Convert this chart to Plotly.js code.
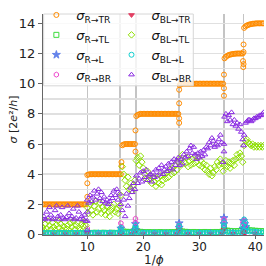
<!DOCTYPE html>
<html><head><meta charset="utf-8">
<script src="https://cdn.plot.ly/plotly-3.0.1.min.js"></script>
<style>html,body{margin:0;padding:0;background:#fff;}#c{width:266px;height:266px;}</style>
</head><body><div id="c"></div>
<script>
// dense x grid (1/phi)
const xGrid = [
2,2.25,2.5,2.75,3,3.25,3.5,3.75,4,4.25,4.5,4.75,5,5.25,5.5,5.75,6,6.25,6.5,6.75,7,7.25,7.5,7.75,8,8.25,8.5,8.75,9,9.25,9.5,9.75,
10,10.25,10.5,10.75,11,11.25,11.5,11.75,12,12.25,12.5,12.75,13,13.25,13.5,13.75,14,14.25,14.5,14.75,15,15.25,15.5,15.75,
16,16.25,16.5,16.75,17,17.25,17.5,17.75,18,18.25,18.5,18.75,19,19.25,19.5,19.75,
20,20.25,20.5,20.75,21,21.25,21.5,21.75,22,22.25,22.5,22.75,23,23.25,23.5,23.75,24,24.25,24.5,24.75,25,25.25,25.5,25.75,
26,26.25,26.5,26.75,27,27.25,27.5,27.75,28,28.25,28.5,28.75,29,29.25,29.5,29.75,
30,30.25,30.5,30.75,31,31.25,31.5,31.75,32,32.25,32.5,32.75,33,33.25,33.5,33.75,
34,34.25,34.5,34.75,35,35.25,35.5,35.75,36,36.25,36.5,36.75,37,37.25,37.5,37.75,
38,38.25,38.5,38.75,39,39.25,39.5,39.75,40,40.25,40.5,40.75,41,41.25,41.5];
// coarse grid for the near-zero channels
const xCoarse = [2,2.5,3,3.5,4,4.5,5,5.5,6,6.5,7,7.5,8,8.5,9,9.5,10,10.5,11,11.5,12,12.5,13,13.5,14,14.5,15,15.5,
16,16.5,17,17.5,18,18.5,19,19.5,20,20.5,21,21.5,22,22.5,23,23.5,24,24.5,25,25.5,26,26.5,27,27.5,28,28.5,29,29.5,
30,30.5,31,31.5,32,32.5,33,33.5,34,34.5,35,35.5,36,36.5,37,37.5,38,38.5,39,39.5,40,40.5,41,41.5];
const xSparse = [2,4,6,8,10,12,14,16,18,20,22,24,26,28,30,32,34,36,38,40];

// sigma R->TR
const rTR = [
2,2,2,2,2,2,2,2,2,2,2,2,2,2,2,2,2,2,2,2,2,2,2,2,2,2,2,2,2,2,2,2,
3.95,3.98,4,4,4,4,4,4,4,4,4,4,4,4,4,4,4,4,4,4,4,4,4,4,4,
5.92,5.97,6,6,6,6,6,6,6,6,
7.85,7.93,7.97,8,8,8,8,8,8,8,8,8,8,8,8,8,8,8,8,8,8,8,8,8,8,8,8,8,8,8,8,
9.9,9.96,10,10,10,10,10,10,10,10,10,10,10,10,10,10,10,10,10,10,10,10,10,10,10,10,10,10,10,10,10,10,
11.68,11.78,11.85,11.9,11.93,11.95,11.97,11.98,11.99,12,12,12,12,12,
13.7,13.8,13.86,13.9,13.93,13.95,13.97,13.98,13.99,14,14,14,14,14,14];
const rTRxExtra = [10,10,16.1,16.1,18.6,18.6,26.4,26.4,26.4,26.4,34.4,34.4,34.4,37.9,37.9,37.8,37.9,37.85];
const rTRyExtra = [2.5,3.4,4.8,4.55,5.5,6.9,9.6,8.7,7.7,7.4,10.6,9.7,9.2,12.6,12.1,11.5,11.3,11.1];

// sigma BL->BR
const blBR = [
1.05,1.2,1.0,1.5,1.1,1.8,1.3,1.0,1.05,1.6,1.9,1.2,1.0,1.3,1.8,1.1,1.0,1.15,1.9,1.4,1.05,1.2,1.7,1.0,1.1,1.9,1.5,1.0,1.2,1.0,1.3,0.9,
2.3,2.1,2.6,2.2,2.5,2.9,2.3,2.7,3.0,2.4,2.8,2.2,2.5,2.1,2.3,2.0,2.2,2.6,2.4,2.9,2.6,3.0,2.3,2.7,
2.0,1.6,2.3,1.2,2.7,1.9,2.4,3.1,2.8,3.4,3.0,
3.9,3.4,3.7,4.1,3.5,
4.2,3.8,4.3,3.6,3.9,4.0,3.5,4.1,3.8,4.3,3.9,4.4,4.1,4.6,4.0,4.3,4.5,4.2,4.7,4.4,4.8,4.3,5.0,4.6,
4.9,5.1,4.6,5.0,4.7,5.3,5.1,5.5,5.2,5.7,5.9,5.4,5.8,5.3,5.0,5.4,
5.1,5.5,5.2,5.6,5.3,5.8,5.7,6.1,5.9,6.4,6.2,5.8,6.0,5.9,6.3,6.6,
6.1,4.8,7.8,8.0,7.5,7.9,7.6,8.1,7.3,7.6,7.2,7.4,7.0,7.3,6.8,6.3,
6.6,7.4,7.5,7.6,7.6,7.5,7.6,7.7,7.7,7.8,7.8,7.9,7.9,8.0,8.1];
const blBRxExtra = [10,10,10,34.4,34.4,37.9];
const blBRyExtra = [0.3,0.9,1.5,5.5,6.0,5.9];

// sigma BL->TL
const blTL = [
0.5,0.3,0.7,0.4,0.9,0.6,0.35,0.8,0.5,0.3,0.65,0.9,0.45,0.7,0.3,0.55,0.85,0.4,0.6,0.3,0.75,0.5,0.9,0.35,0.6,0.8,0.45,0.3,0.7,0.55,0.85,0.6,
1.8,1.4,2.0,1.6,1.3,1.9,2.2,1.5,1.7,2.1,1.4,1.8,1.6,1.3,1.9,1.5,1.2,1.6,1.8,2.0,1.5,1.7,1.4,1.9,
2.6,4.5,4.0,3.6,3.2,3.8,3.0,3.4,2.9,3.3,3.6,
4.9,5.1,4.6,5.2,4.8,
4.4,4.0,3.7,4.2,3.6,3.9,3.4,3.8,3.5,3.2,3.7,3.4,3.9,3.3,3.6,4.0,3.7,4.1,3.8,4.3,4.0,4.4,4.1,4.6,
4.3,4.8,5.0,4.6,5.3,4.8,4.7,5.1,4.5,4.9,4.6,5.0,4.7,5.2,4.8,5.1,
4.6,4.9,4.5,4.7,4.3,4.6,4.2,4.0,4.4,3.9,4.1,4.5,4.3,4.8,4.6,5.0,
4.7,4.2,4.6,4.9,4.5,4.8,4.4,4.7,4.9,4.6,5.0,5.3,5.1,5.4,5.2,4.8,
5.9,6.2,6.3,6.1,6.0,5.9,6.0,5.8,5.9,5.8,5.9,5.8,5.9,5.8,5.9];

// sigma BL->L (baseline on coarse grid + spikes)
const blL = [
0.1,0.11,0.1,0.12,0.1,0.11,0.1,0.12,0.1,0.11,0.1,0.12,0.1,0.11,0.1,0.12,
0.12,0.1,0.11,0.1,0.12,0.1,0.11,0.1,0.12,0.1,0.11,0.12,
0.22,0.14,0.12,0.13,0.15,0.2,
0.14,0.12,0.11,0.12,0.1,0.11,0.12,0.1,0.11,0.12,0.1,0.11,0.12,0.1,0.13,
0.2,0.14,0.12,0.11,0.12,0.1,0.11,0.12,0.1,0.11,0.12,0.1,0.11,0.12,0.1,0.13,
0.22,0.16,0.14,0.13,0.12,0.13,0.15,
0.25,0.22,0.2,0.2,0.18,0.16,0.15,0.14];
const blLxExtra = [16.0,16.0,18.6,18.6,26.4,26.4,34.4,34.4,37.8,38.0,38.2,38.4];
const blLyExtra = [0.3,0.45,0.4,0.6,0.5,0.6,0.6,0.8,0.6,1.0,0.8,0.5];

// sigma R->TL
const rTL = [
0.08,0.1,0.09,0.08,0.1,0.09,0.08,0.1,0.09,0.08,0.1,0.09,0.08,0.1,0.09,0.08,
0.12,0.1,0.11,0.12,0.1,0.11,0.12,0.1,0.11,0.12,0.1,0.11,
0.3,0.2,0.18,0.17,0.18,0.3,
0.2,0.18,0.16,0.15,0.16,0.15,0.14,0.15,0.16,0.15,0.14,0.15,0.16,0.15,0.17,
0.25,0.2,0.18,0.17,0.16,0.17,0.16,0.15,0.16,0.17,0.16,0.15,0.16,0.17,0.16,0.18,
0.3,0.26,0.24,0.22,0.22,0.23,0.25,
0.32,0.3,0.28,0.27,0.25,0.24,0.23,0.22];
const rTLxExtra = [16.0,18.6,26.4,34.4,38.0];
const rTLyExtra = [0.3,0.4,0.3,0.5,0.4];

// sigma R->L, R->BR, BL->TR (sparse baselines + spikes)
const rLbase = [0.03,0.03,0.03,0.03,0.04,0.03,0.03,0.05,0.05,0.04,0.04,0.04,0.04,0.05,0.05,0.05,0.06,0.06,0.08,0.07];
const rLxExtra = [16.0,18.6,18.6,26.4,26.4,34.4,34.4,37.9,38.1,38.3,37.8];
const rLyExtra = [0.4,0.7,0.3,0.75,0.45,1.1,0.7,0.9,0.7,0.5,0.4];
const rBRbase = [0.02,0.02,0.02,0.02,0.03,0.02,0.02,0.04,0.04,0.03,0.03,0.03,0.03,0.04,0.04,0.04,0.05,0.05,0.07,0.06];
const rBRxExtra = [10.0,16.0,16.1,18.6,18.6,26.4,26.4,34.4,34.4,37.8,38.0,38.2];
const rBRyExtra = [0.4,0.75,0.5,1.05,0.8,0.65,0.5,1.0,0.8,0.8,0.95,0.6];
const blTRbase = [0.01,0.01,0.01,0.01,0.02,0.01,0.01,0.02,0.02,0.02,0.02,0.02,0.02,0.02,0.02,0.02,0.03,0.03,0.05,0.04];
const blTRxExtra = [10,16.0,18.6,26.4,34.4,37.9,38.1];
const blTRyExtra = [0.1,0.15,0.25,0.3,0.3,0.15,0.2];

const xTickVals = [10,20,30,40];
const yTickVals = [0,2,4,6,8,10,12,14];
const yMinorVals = [1,3,5,7,9,11,13];
const xGridVals = [10.02,15.85,18.7,26.4,34.45,37.87];

function mk(name, xs, ys, symbol, color, leg, filled, size){
  return {type:'scatter', mode:'markers', name:name, x:xs, y:ys, legend:leg,
    marker:{symbol:symbol, size:size||5, color: color, opacity: filled?0.85:1,
      line:{color:color, width:1}}, hoverinfo:'skip', cliponaxis:true};
}
const cat = (a,b)=>a.concat(b);
const lab = s => '<i>σ</i><sub>'+s+'</sub>';

const data = [
  mk(lab('R→TR'), cat(xGrid,rTRxExtra), cat(rTR,rTRyExtra), 'circle-open', '#ff8c00', 'legend', false, 5),
  mk(lab('R→TL'), cat(xCoarse,rTLxExtra), cat(rTL,rTLyExtra), 'square-open', '#3ddc3d', 'legend', false, 5),
  mk(lab('R→L'), cat(xSparse,rLxExtra), cat(rLbase,rLyExtra), 'star', '#4a6ee8', 'legend', true, 6),
  mk(lab('R→BR'), cat(xSparse,rBRxExtra), cat(rBRbase,rBRyExtra), 'hexagon-open', '#ee44cc', 'legend', false, 5),
  mk(lab('BL→TR'), cat(xSparse,blTRxExtra), cat(blTRbase,blTRyExtra), 'triangle-down', '#e0204a', 'legend2', true, 5),
  mk(lab('BL→TL'), xGrid, blTL, 'diamond-open', '#8ee000', 'legend2', false, 5),
  mk(lab('BL→L'), cat(xCoarse,blLxExtra), cat(blL,blLyExtra), 'circle-open', '#10d0d0', 'legend2', false, 5),
  mk(lab('BL→BR'), cat(xGrid,blBRxExtra), cat(blBR,blBRyExtra), 'triangle-up-open', '#8a2be2', 'legend2', false, 5)
];

const legBase = {yanchor:'top', xanchor:'left', orientation:'v', bgcolor:'rgba(0,0,0,0)', borderwidth:0,
  font:{family:'DejaVu Sans', size:13, color:'#111'}, traceorder:'normal', itemwidth:30, tracegroupgap:0};

const layout = {
  width:266, height:266,
  margin:{l:43, r:2, t:0, b:31, pad:0},
  paper_bgcolor:'#ffffff', plot_bgcolor:'#ffffff',
  font:{family:'DejaVu Sans', size:12, color:'#222'},
  showlegend:true,
  legend:Object.assign({x:-0.03, y:1.065}, legBase),
  legend2:Object.assign({x:0.31, y:1.065}, legBase),
  shapes:[{type:'rect', xref:'paper', yref:'paper', x0:0.003, x1:0.68, y0:0.675, y1:1.0,
    fillcolor:'rgba(255,255,255,0.8)', line:{color:'#d6d6d6', width:1}, layer:'above'}],
  annotations:[
    {text:'1/<i>ϕ</i>', xref:'paper', yref:'paper', x:0.5, y:0, xanchor:'center', yanchor:'top', yshift:-17,
     borderpad:0, showarrow:false, font:{size:12, color:'#222'}},
    {text:'<i>σ</i> [2<i>e</i>²/<i>h</i>]', xref:'paper', yref:'paper', x:0, y:0.523, xanchor:'center', yanchor:'middle',
     xshift:-30, textangle:-90, showarrow:false, font:{size:11, color:'#222'}}
  ],
  xaxis:{range:[2.09,41.55], tickmode:'array', tickvals:xTickVals, showgrid:false, zeroline:false,
    showline:true, linecolor:'#666', linewidth:1, ticks:'outside', ticklen:3, tickcolor:'#666',
    tickfont:{size:12, color:'#222'}, ticklabelstandoff:-2,
    minor:{tickmode:'array', tickvals:xGridVals, showgrid:true, gridcolor:'#c4c4c4', gridwidth:1.5, ticks:''}},
  yaxis:{range:[-0.03,14.62], tickmode:'array', tickvals:yTickVals, showgrid:true, gridcolor:'#e0e0e0', gridwidth:1.5,
    zeroline:false, showline:true, linecolor:'#666', linewidth:1, ticks:'outside', ticklen:4, tickcolor:'#666',
    tickfont:{size:13, color:'#222'},
    minor:{tickmode:'array', tickvals:yMinorVals, showgrid:true, gridcolor:'#e0e0e0', gridwidth:1.5, ticks:''}}
};
Plotly.newPlot('c', data, layout, {staticPlot:true, displayModeBar:false});
</script></body></html>
